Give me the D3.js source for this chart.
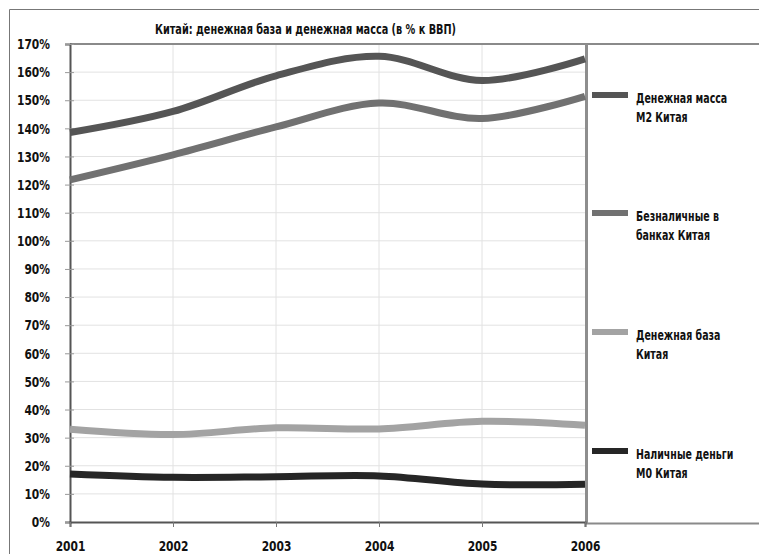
<!DOCTYPE html>
<html>
<head>
<meta charset="utf-8">
<script src="https://cdn.jsdelivr.net/npm/d3@7"></script>
<style>
  html, body { margin: 0; padding: 0; background: #fff; }
  svg { display: block; }
  text { font-family: "Liberation Sans Narrow", "DejaVu Sans Condensed", "Roboto Condensed", sans-serif; font-weight: bold; fill: #111; }
</style>
</head>
<body>
<svg id="chart" width="759" height="554"></svg>
<script>
// Years on the horizontal axis
const years = [2001, 2002, 2003, 2004, 2005, 2006];

// Series, % of GDP
const m2Values       = [138.5, 146.0, 158.7, 165.6, 157.0, 164.7];
const depositValues  = [121.7, 130.6, 140.5, 149.0, 143.5, 151.4];
const baseValues     = [33.0, 31.1, 33.5, 33.1, 35.8, 34.4];
const m0Values       = [17.1, 15.9, 16.1, 16.4, 13.5, 13.4];

const seriesNames = [
  ["Денежная масса", "М2 Китая"],
  ["Безналичные в", "банках Китая"],
  ["Денежная база", "Китая"],
  ["Наличные деньги", "М0 Китая"]
];
const seriesColors = ["#555555", "#717171", "#a3a3a3", "#262626"];

const yTicks = d3.range(0, 171, 10);
const chartTitle = "Китай: денежная база и денежная масса (в % к ВВП)";

const svg = d3.select("#chart");

// outer frame
svg.append("path")
  .attr("d", "M9.5,554 V9.5 H759")
  .attr("fill", "none").attr("stroke", "#777").attr("stroke-width", 1);

const plot = { left: 70, right: 586, top: 44, bottom: 522 };

const x = d3.scaleLinear().domain([2001, 2006]).range([plot.left, 585]);
const y = d3.scaleLinear().domain([0, 170]).range([plot.bottom, plot.top]);

// gridlines
svg.append("g").selectAll("line").data(yTicks.slice(1)).join("line")
  .attr("x1", plot.left).attr("x2", plot.right)
  .attr("y1", d => y(d)).attr("y2", d => y(d))
  .attr("stroke", "#e2e2e2").attr("stroke-width", 1);
svg.append("g").selectAll("line").data(years.slice(1, -1)).join("line")
  .attr("x1", d => x(d)).attr("x2", d => x(d))
  .attr("y1", plot.top).attr("y2", plot.bottom)
  .attr("stroke", "#e2e2e2").attr("stroke-width", 1);

// plot top border
svg.append("line")
  .attr("x1", plot.left).attr("x2", plot.right)
  .attr("y1", plot.top).attr("y2", plot.top)
  .attr("stroke", "#8a8a8a").attr("stroke-width", 2);

// legend box
const legendBox = svg.append("g");
legendBox.append("path")
  .attr("d", `M759,${plot.top} H${plot.right} V${plot.bottom + 1.5} H759`)
  .attr("fill", "#fff").attr("stroke", "#8a8a8a").attr("stroke-width", 2);
legendBox.append("line")
  .attr("x1", plot.right + 0.5).attr("x2", plot.right + 0.5)
  .attr("y1", plot.top).attr("y2", plot.bottom + 2)
  .attr("stroke", "#8e8e8e").attr("stroke-width", 3);

// axes
const labelFont = "'Liberation Sans Narrow', 'DejaVu Sans Condensed', sans-serif";
const yAxis = d3.axisLeft(y).tickValues(yTicks).tickSize(5).tickFormat(d => d + "%");
const yg = svg.append("g").attr("transform", `translate(${plot.left},0)`).call(yAxis);
yg.select(".domain").attr("stroke", "#555").attr("stroke-width", 2);
yg.selectAll(".tick line").attr("stroke", "#999").attr("x2", 4).attr("x1", -5);
yg.selectAll(".tick text")
  .attr("x", 0).attr("dy", "0.35em")
  .attr("transform", "translate(-20,0) scale(0.88,1)")
  .attr("font-size", 13.5).attr("fill", "#111");

const xAxis = d3.axisBottom(x).tickValues(years).tickSize(5).tickFormat(d3.format("d"));
const xg = svg.append("g").attr("transform", `translate(0,${plot.bottom})`).call(xAxis);
xg.select(".domain").attr("stroke", "#555").attr("stroke-width", 2);
xg.selectAll(".tick line").attr("stroke", "#777");
xg.selectAll(".tick text")
  .attr("y", 0).attr("dy", 0)
  .attr("transform", "translate(0,29) scale(0.88,1)")
  .attr("font-size", 13.5).attr("fill", "#111");
svg.selectAll(".tick text").style("font-family", labelFont).style("font-weight", "bold");

// series lines
const allSeries = [m2Values, depositValues, baseValues, m0Values];
const line = d3.line()
  .x((d, i) => x(years[i]))
  .y(d => y(d))
  .curve(d3.curveCatmullRom.alpha(0.5));

svg.append("g").selectAll("path").data(allSeries).join("path")
  .attr("d", d => line(d))
  .attr("fill", "none")
  .attr("stroke", (d, i) => seriesColors[i])
  .attr("stroke-width", 7)
  .attr("stroke-linecap", "butt");

// title
svg.append("text")
  .attr("x", 155).attr("y", 34)
  .attr("font-size", 14)
  .attr("textLength", 301)
  .attr("lengthAdjust", "spacingAndGlyphs")
  .text(chartTitle);

// legend entries
const legendY = [95, 213, 332, 451];
const lg = svg.append("g").selectAll("g").data(seriesNames).join("g")
  .attr("transform", (d, i) => `translate(592,${legendY[i]})`);
lg.append("rect")
  .attr("x", 0).attr("y", -3).attr("width", 36).attr("height", 6)
  .attr("fill", (d, i) => seriesColors[i]);
lg.append("text")
  .attr("transform", "translate(44,7.5) scale(0.78,1)")
  .attr("font-size", 13.5)
  .selectAll("tspan").data(d => d).join("tspan")
  .attr("x", 0).attr("dy", (d, i) => i === 0 ? 0 : 20)
  .text(d => d);
</script>
</body>
</html>
